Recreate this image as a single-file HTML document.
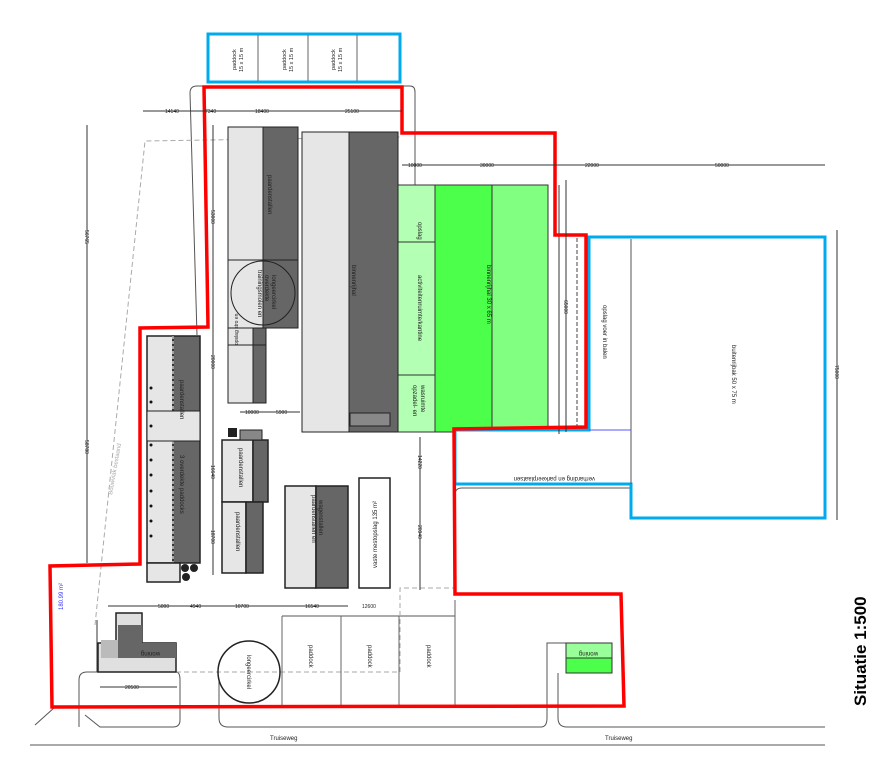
<!DOCTYPE html>
<html><head><meta charset="utf-8"><style>
html,body{margin:0;padding:0;background:#fff}
svg{display:block}
text{font-family:"Liberation Sans",sans-serif;fill:#222}
</style></head><body>
<svg width="887" height="769" viewBox="0 0 887 769" xmlns="http://www.w3.org/2000/svg">
<rect width="887" height="769" fill="#fff"/>

<!-- road / kerb lines -->
<g fill="none" stroke="#555" stroke-width="1">
<path d="M190,93 Q190,86 197,86 L410,86 Q415,86 415,92 L415,185"/>
<path d="M190,93 L197,335"/>
<path d="M30,745 L825,745"/>
<path d="M79,727 L79,680 Q79,672 87,672 L176,672 Q180,672 180,680 L180,720 Q180,727 173,727 L100,727 L85,715"/>
<path d="M55,707 L35,725"/>
<path d="M219,680 L219,718 Q219,727 228,727 L541,727 Q547,727 547,718 L547,643 L566,643"/>
<path d="M558,673 L558,718 Q558,727 567,727 L825,727"/>
<path d="M455,495 Q455,488 462,488 L631,488"/>
<path d="M282,616 L455,616"/>
</g>

<!-- grey dashed bouwvlak -->
<g fill="none" stroke="#aaa" stroke-width="1" stroke-dasharray="5,3">
<path d="M95,625 L145,141 L400,137"/>
<path d="M176,672 L400,672 L400,588 L455,588"/>
</g>
<text x="0" y="0" font-size="6" transform="translate(112,495) rotate(-80)" style="fill:#aaa">Bouwvlak bestaand</text>

<!-- top paddocks -->
<rect x="208" y="34" width="192" height="48" fill="#fff" stroke="#00aaee" stroke-width="3"/>
<g stroke="#666" stroke-width="1"><line x1="258" y1="35" x2="258" y2="81"/><line x1="308" y1="35" x2="308" y2="81"/><line x1="357" y1="35" x2="357" y2="81"/></g>
<g font-size="5.5">
<text transform="translate(236,70) rotate(-90)">paddock</text><text transform="translate(243,72) rotate(-90)">15 x 15 m</text>
<text transform="translate(286,70) rotate(-90)">paddock</text><text transform="translate(293,72) rotate(-90)">15 x 15 m</text>
<text transform="translate(335,70) rotate(-90)">paddock</text><text transform="translate(342,72) rotate(-90)">15 x 15 m</text>
</g>

<!-- green buildings -->
<rect x="397" y="185" width="38" height="247" fill="#b3ffb3" stroke="#333"/>
<line x1="397" y1="242" x2="435" y2="242" stroke="#333"/>
<line x1="397" y1="375" x2="435" y2="375" stroke="#333"/>
<rect x="435" y="185" width="57" height="247" fill="#4bff4b" stroke="#333"/>
<rect x="492" y="185" width="56" height="247" fill="#80ff80" stroke="#333"/>
<line x1="492" y1="185" x2="492" y2="432" stroke="#333" stroke-dasharray="4,2"/>
<g font-size="6">
<text transform="translate(418,222) rotate(90)">opslag</text>
<text transform="translate(418,275) rotate(90)">activiteitenruimte/kantine</text>
<text transform="translate(413,385) rotate(90)">opzadel- en</text>
<text transform="translate(421,385) rotate(90)">wasruimte</text>
<text transform="translate(487,265) rotate(90)">binnenrijhal 30 x 65 m</text>
</g>

<!-- left long building -->
<rect x="228" y="127" width="35" height="201" fill="#e6e6e6" stroke="#222"/>
<rect x="263" y="127" width="35" height="201" fill="#666" stroke="#222"/>
<line x1="228" y1="260" x2="298" y2="260" stroke="#222"/>
<circle cx="263" cy="293" r="32" fill="none" stroke="#222"/>
<g font-size="6">
<text transform="translate(268,175) rotate(90)">paardenstallen</text>
<text transform="translate(258,270) rotate(90)">trainingsmolen en</text>
<text transform="translate(265,275) rotate(90)">overdekte</text>
<text transform="translate(272,275) rotate(90)">longeercirkel</text>
</g>
<!-- binnenrijhal -->
<rect x="302" y="132" width="47" height="300" fill="#e6e6e6" stroke="#222"/>
<rect x="349" y="132" width="49" height="300" fill="#666" stroke="#222"/>
<rect x="350" y="413" width="40" height="13" fill="#888" stroke="#222"/>
<text transform="translate(352,265) rotate(90)" font-size="6">binnenrijhal</text>
<!-- opslag small -->
<rect x="228" y="328" width="25" height="75" fill="#e6e6e6" stroke="#222"/>
<rect x="253" y="328" width="13" height="75" fill="#666" stroke="#222"/>
<line x1="228" y1="345" x2="266" y2="345" stroke="#222"/>
<text transform="translate(238,345) rotate(-90)" font-size="5">opslag stro en</text>

<!-- left building -->
<rect x="147" y="336" width="26" height="227" fill="#e6e6e6" stroke="#222" stroke-width="1.5"/>
<rect x="173" y="336" width="27" height="227" fill="#666" stroke="#222" stroke-width="1.5"/>
<line x1="173" y1="336" x2="173" y2="563" stroke="#fff" stroke-dasharray="3,2"/>
<rect x="147" y="411" width="53" height="30" fill="#e6e6e6" stroke="#222"/>
<rect x="147" y="563" width="33" height="19" fill="#e6e6e6" stroke="#222" stroke-width="1.5"/>
<g fill="#222"><circle cx="185" cy="568" r="4"/><circle cx="194" cy="568" r="4"/><circle cx="186" cy="577" r="4"/></g>
<g fill="#111"><circle cx="151" cy="388" r="1.5"/><circle cx="151" cy="402" r="1.5"/><circle cx="151" cy="426" r="1.5"/><circle cx="151" cy="445" r="1.5"/><circle cx="151" cy="460" r="1.5"/><circle cx="151" cy="475" r="1.5"/><circle cx="151" cy="491" r="1.5"/><circle cx="151" cy="506" r="1.5"/><circle cx="151" cy="521" r="1.5"/><circle cx="151" cy="536" r="1.5"/></g>
<text transform="translate(180,380) rotate(90)" font-size="6">paardenstallen</text>
<text transform="translate(180,455) rotate(90)" font-size="6">3 overdekte paddocks</text>

<!-- paardenstallen -->
<rect x="222" y="440" width="31" height="62" fill="#e6e6e6" stroke="#222" stroke-width="1.5"/>
<rect x="253" y="440" width="15" height="62" fill="#666" stroke="#222" stroke-width="1.5"/>
<rect x="222" y="502" width="24" height="71" fill="#e6e6e6" stroke="#222" stroke-width="1.5"/>
<rect x="246" y="502" width="17" height="71" fill="#666" stroke="#222" stroke-width="1.5"/>
<rect x="240" y="430" width="22" height="10" fill="#888" stroke="#222"/>
<rect x="228" y="428" width="9" height="9" fill="#222"/>
<text transform="translate(239,448) rotate(90)" font-size="6">paardenstallen</text>
<text transform="translate(236,512) rotate(90)" font-size="6">paardenstallen</text>

<rect x="285" y="486" width="31" height="102" fill="#e6e6e6" stroke="#222" stroke-width="1.5"/>
<rect x="316" y="486" width="32" height="102" fill="#666" stroke="#222" stroke-width="1.5"/>
<text transform="translate(312,495) rotate(90)" font-size="6">paardenstallen en</text>
<text transform="translate(319,500) rotate(90)" font-size="6">wagenstallen</text>
<rect x="359" y="478" width="31" height="110" fill="#fff" stroke="#222" stroke-width="1.5"/>
<text transform="translate(377,568) rotate(-90)" font-size="6">vaste mestopslag 135 m²</text>

<!-- paddocks bottom -->
<g fill="none" stroke="#666"><line x1="282" y1="616" x2="282" y2="705"/><line x1="341" y1="616" x2="341" y2="705"/><line x1="399" y1="616" x2="399" y2="705"/><line x1="455" y1="600" x2="455" y2="705"/></g>
<g font-size="6"><text transform="translate(309,645) rotate(90)">paddock</text><text transform="translate(368,645) rotate(90)">paddock</text><text transform="translate(427,645) rotate(90)">paddock</text></g>
<circle cx="249" cy="672" r="31" fill="none" stroke="#222" stroke-width="1.5"/>
<text transform="translate(247,655) rotate(90)" font-size="6">longeercirkel</text>

<!-- woning left -->
<path d="M116,613 L142,613 L142,643 L176,643 L176,672 L98,672 L98,643 L116,643 Z" fill="#e0e0e0" stroke="#222" stroke-width="1.5"/>
<rect x="118" y="625" width="24" height="33" fill="#666"/>
<rect x="142" y="643" width="34" height="15" fill="#666"/>
<rect x="101" y="640" width="17" height="18" fill="#bbb"/>
<text transform="translate(160,652) rotate(180)" font-size="6">woning</text>
<!-- woning right -->
<rect x="566" y="643" width="46" height="15" fill="#99ff99" stroke="#333"/>
<rect x="566" y="658" width="46" height="15" fill="#4bff4b" stroke="#333"/>
<text transform="translate(598,652) rotate(180)" font-size="6">woning</text>

<!-- buitenrijbak blue -->
<path d="M589,237 L825,237 L825,518 L631,518 L631,484 L455,484 L455,430 L589,430 Z" fill="#fff" stroke="#00aaee" stroke-width="3"/>
<line x1="631" y1="239" x2="631" y2="484" stroke="#555"/>
<line x1="589" y1="430" x2="631" y2="430" stroke="#55f"/>
<text transform="translate(603,305) rotate(90)" font-size="6">opslag voer in balen</text>
<text transform="translate(732,345) rotate(90)" font-size="6">buitenrijbak 50 x 75 m</text>
<text transform="translate(595,477) rotate(180)" font-size="6">verharding en parkeerplaatsen</text>
<line x1="577" y1="238" x2="577" y2="426" stroke="#444" stroke-dasharray="4,2"/>
<line x1="559" y1="185" x2="559" y2="434" stroke="#333"/>

<!-- red boundary -->
<path d="M204,87 L402,87 L402,133 L555,133 L555,235 L586,235 L586,427 L454,429 L455,594 L621,594 L624,706 L52,707 L50,566 L140,564 L140,328 L208,327 Z" fill="none" stroke="#f00" stroke-width="3.5"/>

<!-- dimension lines -->
<g stroke="#333" stroke-width="1">
<line x1="143" y1="111" x2="402" y2="111"/>
<line x1="402" y1="165" x2="825" y2="165"/>
<line x1="87" y1="125" x2="87" y2="563"/>
<line x1="213" y1="125" x2="213" y2="575"/>
<line x1="108" y1="606" x2="348" y2="606"/>
<line x1="420" y1="437" x2="420" y2="590"/>
<line x1="837" y1="230" x2="837" y2="520"/>
<line x1="97" y1="620" x2="97" y2="672"/>
<line x1="100" y1="687" x2="177" y2="687"/>
<line x1="566" y1="180" x2="566" y2="432"/>
<line x1="240" y1="412" x2="300" y2="412"/>
</g>
<g font-size="5" fill="#333">
<text x="165" y="113">14140</text><text x="205" y="113">7340</text><text x="255" y="113">18400</text><text x="345" y="113">25100</text>
<text x="408" y="167">10000</text><text x="480" y="167">30000</text><text x="585" y="167">22000</text><text x="715" y="167">50000</text>
<text transform="translate(85,230) rotate(90)">56765</text>
<text transform="translate(85,440) rotate(90)">58780</text>
<text transform="translate(211,210) rotate(90)">53000</text>
<text transform="translate(211,355) rotate(90)">20000</text>
<text transform="translate(211,465) rotate(90)">16640</text>
<text transform="translate(211,530) rotate(90)">18700</text>
<text transform="translate(418,455) rotate(90)">14220</text>
<text transform="translate(418,525) rotate(90)">20940</text>
<text transform="translate(835,365) rotate(90)">75000</text>
<text transform="translate(564,300) rotate(90)">65000</text>
<text x="158" y="608">5000</text><text x="190" y="608">4940</text><text x="235" y="608">10700</text><text x="305" y="608">16540</text><text x="362" y="608">12600</text>
<text x="125" y="689">20500</text>
<text x="245" y="414">10000</text><text x="276" y="414">5900</text>
</g>
<text transform="translate(63,610) rotate(-90)" font-size="6" style="fill:#33f">180.99 m²</text>

<text x="270" y="740" font-size="6">Truiseweg</text>
<text x="605" y="740" font-size="6">Truiseweg</text>

<text transform="translate(866,706) rotate(-90)" font-size="17" font-weight="bold" style="fill:#000">Situatie 1:500</text>
</svg>
</body></html>
